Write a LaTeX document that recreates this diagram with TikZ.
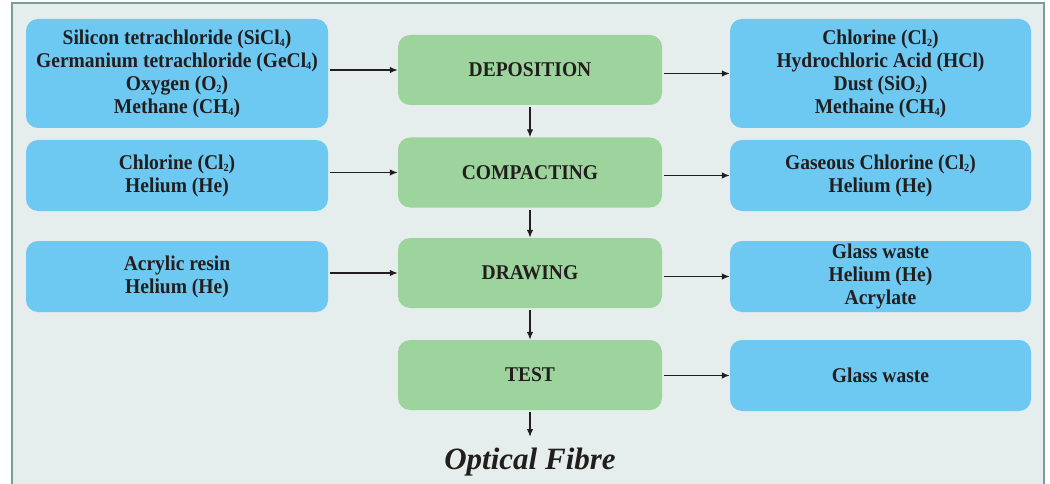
\documentclass[tikz,border=0pt]{standalone}
\usepackage{fontspec}
\setmainfont{Liberation Serif}
\newfontfamily\boxfont[FakeStretch=0.93]{Liberation Serif}
\usetikzlibrary{arrows.meta}
\definecolor{bluebox}{RGB}{109,200,242}
\definecolor{greenbox}{RGB}{157,211,157}
\definecolor{bgfill}{RGB}{229,238,237}
\definecolor{framec}{RGB}{122,158,154}
\definecolor{txt}{RGB}{34,30,30}
\tikzset{
  box/.style={rounded corners=12pt, inner sep=0pt, align=center, text=txt,
    font=\boxfont\fontsize{21}{23}\selectfont\bfseries},
  inbox/.style={box, fill=bluebox, minimum width=302pt},
  outbox/.style={box, fill=bluebox, minimum width=301pt},
  stagebox/.style={box, fill=greenbox, minimum width=264pt, minimum height=70pt},
  arr/.style={draw=txt, line width=1.4pt, -{Latex[length=8pt,width=6.5pt]}, shorten <=2pt}
}
\newcommand{\sbs}[1]{\raisebox{-0.25ex}{\fontsize{11}{11}\selectfont #1}}
\begin{document}
\begin{tikzpicture}[x=1pt,y=-1pt]
\useasboundingbox (0,0) rectangle (1050,484);
\fill[white] (0,0) rectangle (1050,484);
\fill[bgfill] (12,3) rectangle (1044,495);
\draw[framec, line width=2.5pt] (12,495) -- (12,3) -- (1044,3) -- (1044,495);

% inputs
\node[inbox, minimum height=109pt] (i1) at (177,73.5)
  {Silicon tetrachloride (SiCl\sbs{4})\\Germanium tetrachloride (GeCl\sbs{4})\\Oxygen (O\sbs{2})\\Methane (CH\sbs{4})};
\node[inbox, minimum height=71pt] (i2) at (177,175.5)
  {Chlorine (Cl\sbs{2})\\Helium (He)};
\node[inbox, minimum height=71pt] (i3) at (177,276.5)
  {Acrylic resin\\Helium (He)};

% stages
\node[stagebox] (g1) at (530,70) {DEPOSITION};
\node[stagebox] (g2) at (530,172.5) {COMPACTING};
\node[stagebox] (g3) at (530,273) {DRAWING};
\node[stagebox] (g4) at (530,375) {TEST};

% outputs
\node[outbox, minimum height=109pt] (o1) at (880.5,73.5)
  {Chlorine (Cl\sbs{2})\\Hydrochloric Acid (HCl)\\Dust (SiO\sbs{2})\\Methaine (CH\sbs{4})};
\node[outbox, minimum height=71pt] (o2) at (880.5,175.5)
  {Gaseous Chlorine (Cl\sbs{2})\\Helium (He)};
\node[outbox, minimum height=71pt] (o3) at (880.5,276.5)
  {Glass waste\\Helium (He)\\Acrylate};
\node[outbox, minimum height=71pt] (o4) at (880.5,375.5)
  {Glass waste};

\node[font=\fontsize{31}{33}\selectfont\bfseries\itshape, text=txt, inner sep=0pt] (of) at (530,462) {Optical Fibre};
\coordinate (ofTop) at (530,437);

% connectors
\draw[arr] (i1.east |- g1) -- (g1.west);
\draw[arr] (i2.east |- g2) -- (g2.west);
\draw[arr] (i3.east |- g3) -- (g3.west);
\draw[arr] (g1.east |- o1) -- (o1.west);
\draw[arr] (g2.east |- o2) -- (o2.west);
\draw[arr] (g3.east |- o3) -- (o3.west);
\draw[arr] (g4.east |- o4) -- (o4.west);
\draw[arr] (g1.south) -- (g2.north);
\draw[arr] (g2.south) -- (g3.north);
\draw[arr] (g3.south) -- (g4.north);
\draw[arr] (g4.south) -- (ofTop);
\end{tikzpicture}
\end{document}
